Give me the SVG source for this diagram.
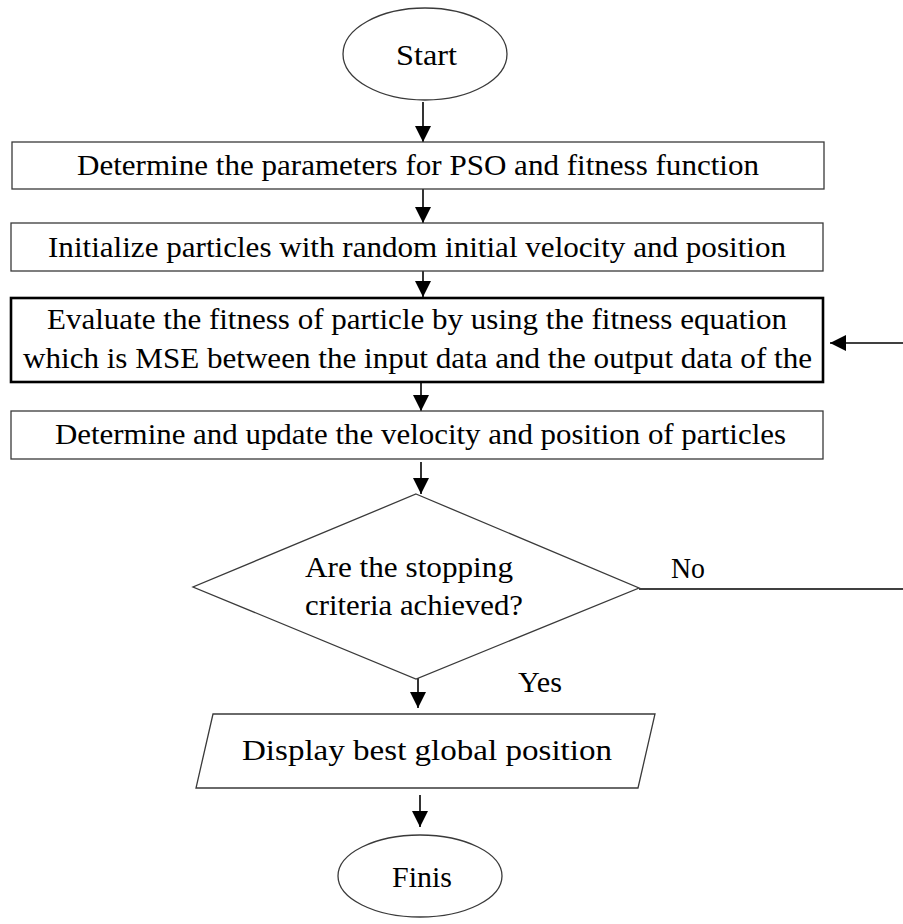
<svg xmlns="http://www.w3.org/2000/svg" width="903" height="924" viewBox="0 0 903 924">
  <style>
    .shape { fill: #ffffff; stroke: #3a3a3a; stroke-width: 1.3; }
    .thick { fill: #ffffff; stroke: #000000; stroke-width: 2.6; }
    .edge { fill: none; stroke: #000000; stroke-width: 1.6; }
    .label { font-family: "Liberation Serif", "DejaVu Serif", serif; font-size: 30px; fill: #000000; }
  </style>
  <defs>
    <marker id="arrow" markerUnits="userSpaceOnUse" markerWidth="16" markerHeight="16" viewBox="0 0 16 16" refX="16" refY="8" orient="auto">
      <path d="M0,0 L16,8 L0,16 Z" fill="#000000"/>
    </marker>
  </defs>

  <!-- connectors -->
  <g id="connectors">
    <line class="edge" x1="423" y1="102" x2="423" y2="142" marker-end="url(#arrow)"/>
    <line class="edge" x1="423" y1="189" x2="423" y2="223" marker-end="url(#arrow)"/>
    <line class="edge" x1="423" y1="271" x2="423" y2="297" marker-end="url(#arrow)"/>
    <line class="edge" x1="421" y1="382" x2="421" y2="411" marker-end="url(#arrow)"/>
    <line class="edge" x1="421" y1="462" x2="421" y2="494" marker-end="url(#arrow)"/>
    <line class="edge" x1="418" y1="678" x2="418" y2="708" marker-end="url(#arrow)"/>
    <line class="edge" x1="420" y1="795" x2="420" y2="827" marker-end="url(#arrow)"/>
    <!-- loop back from the decision -->
    <line class="edge" x1="639" y1="589" x2="903" y2="589" stroke-width="2"/>
    <line class="edge" x1="903" y1="343" x2="830" y2="343" stroke-width="2" marker-end="url(#arrow)"/>
    <text class="label" x="671" y="578" textLength="34" lengthAdjust="spacingAndGlyphs">No</text>
    <text class="label" x="518" y="692" textLength="44" lengthAdjust="spacingAndGlyphs">Yes</text>
  </g>

  <g id="start">
    <ellipse class="shape" cx="425" cy="54" rx="82" ry="46"/>
    <text class="label" x="396" y="65" textLength="61" lengthAdjust="spacingAndGlyphs">Start</text>
  </g>

  <g id="set-parameters">
    <rect class="shape" x="12" y="142" width="812" height="47"/>
    <text class="label" x="77" y="175" textLength="682" lengthAdjust="spacingAndGlyphs">Determine the parameters for PSO and fitness function</text>
  </g>

  <g id="initialize">
    <rect class="shape" x="11" y="223" width="812" height="48"/>
    <text class="label" x="48" y="257" textLength="738" lengthAdjust="spacingAndGlyphs">Initialize particles with random initial velocity and position</text>
  </g>

  <g id="evaluate">
    <rect class="thick" x="11" y="298" width="812" height="84"/>
    <text class="label" x="47" y="329" textLength="740" lengthAdjust="spacingAndGlyphs">Evaluate the fitness of particle by using the fitness equation</text>
    <text class="label" x="23" y="368" textLength="789" lengthAdjust="spacingAndGlyphs">which is MSE between the input data and the output data of the</text>
  </g>

  <g id="update">
    <rect class="shape" x="11" y="411" width="812" height="48"/>
    <text class="label" x="55" y="444" textLength="731" lengthAdjust="spacingAndGlyphs">Determine and update the velocity and position of particles</text>
  </g>

  <g id="decision">
    <polygon class="shape" points="416,494 639,588 416,679 193,587" stroke-width="1.1"/>
    <text class="label" x="305" y="577" textLength="208" lengthAdjust="spacingAndGlyphs">Are the stopping</text>
    <text class="label" x="305" y="615" textLength="218" lengthAdjust="spacingAndGlyphs">criteria achieved?</text>
  </g>

  <g id="display">
    <polygon class="shape" points="213,714 655,714 638,788 196,788"/>
    <text class="label" x="242" y="760" textLength="370" lengthAdjust="spacingAndGlyphs">Display best global position</text>
  </g>

  <g id="finish">
    <ellipse class="shape" cx="420" cy="876" rx="82" ry="41"/>
    <text class="label" x="392" y="887" textLength="60" lengthAdjust="spacingAndGlyphs">Finis</text>
  </g>
</svg>
